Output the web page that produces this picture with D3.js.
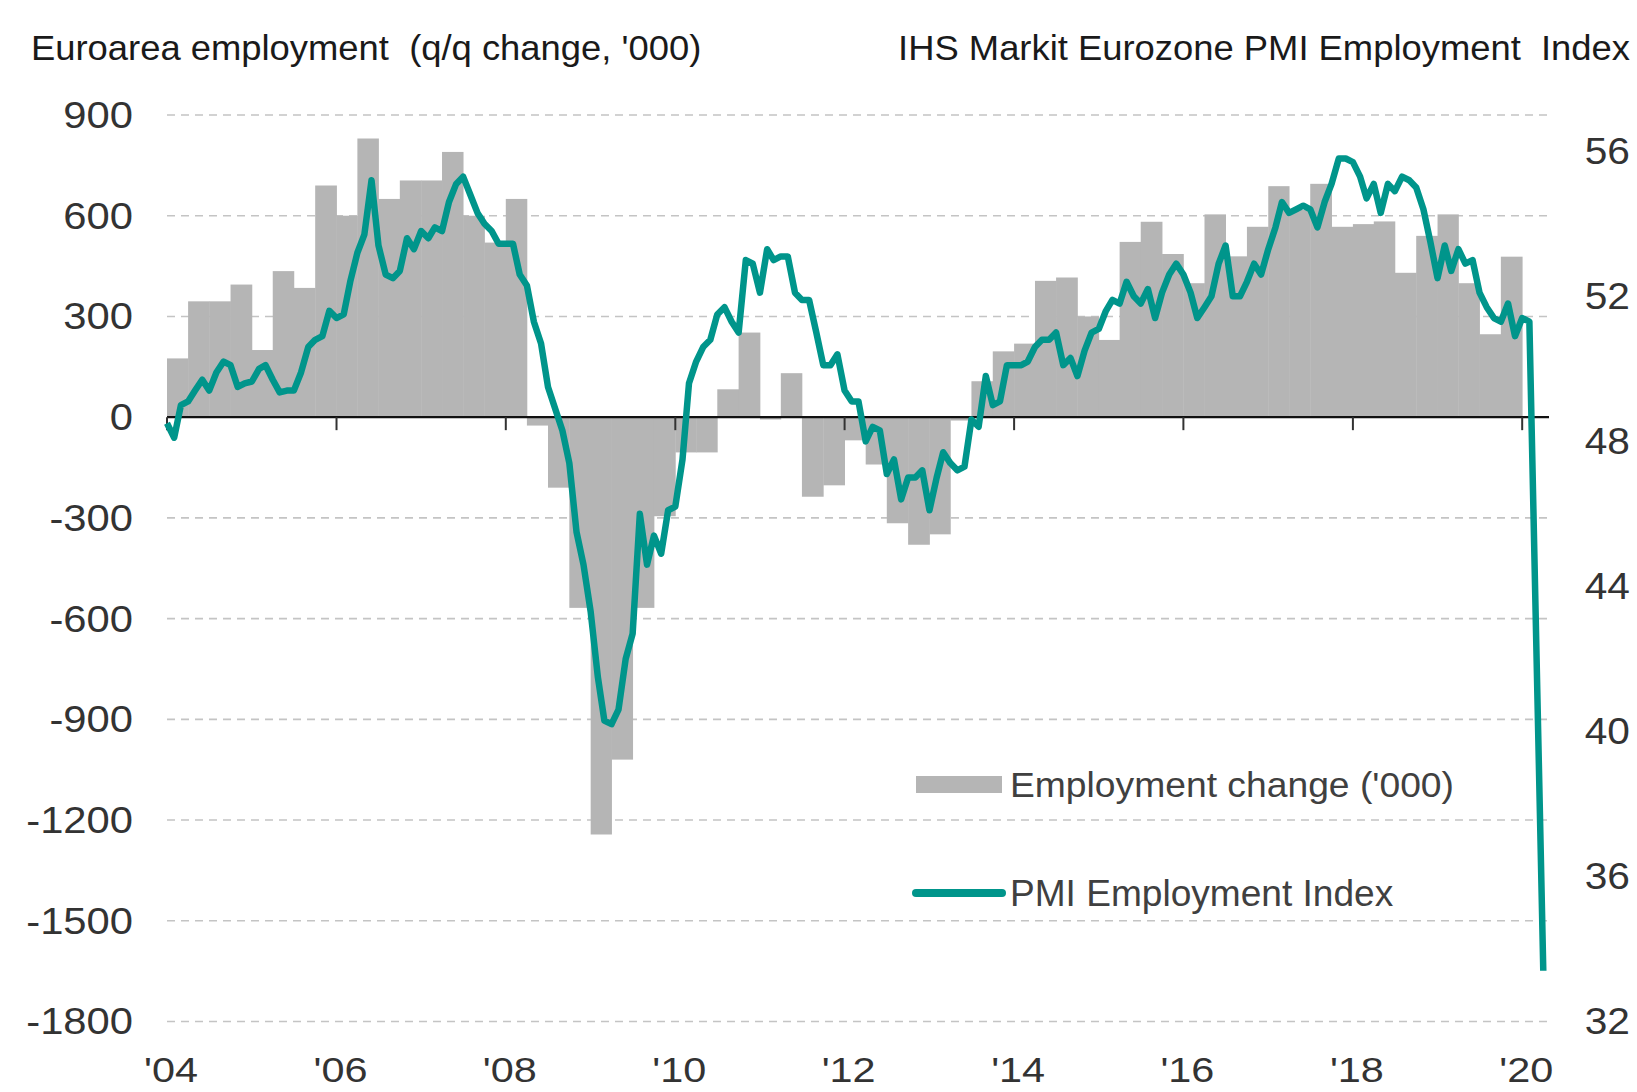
<!DOCTYPE html>
<html>
<head>
<meta charset="utf-8">
<script src="https://cdn.jsdelivr.net/npm/d3@7"></script>
<style>
  body { margin: 0; background: #fff; }
  svg { display: block; font-family: "Liberation Sans", Arial, sans-serif; }
  text { white-space: pre; }
</style>
</head>
<body>
<svg id="chart" width="1637" height="1092"></svg>
<script>
// quarterly euro area employment change ('000), one row per year, Q1..Q4
const barYears = [2004, 2005, 2006, 2007, 2008, 2009, 2010, 2011, 2012, 2013, 2014, 2015, 2016, 2017, 2018, 2019];
const employmentChange = [
    [175, 345, 345, 395],
    [200, 435, 385, 690],
    [600, 830, 650, 705],
    [705, 790, 600, 520],
    [650, -25, -210, -568],
    [-1243, -1020, -568, -295],
    [-105, -105, 83, 252],
    [-7, 131, -237, -203],
    [-69, -141, -316, -380],
    [-349, -10, 107, 196],
    [219, 406, 416, 300],
    [230, 522, 582, 486],
    [399, 604, 479, 567],
    [688, 617, 695, 567],
    [575, 583, 430, 540],
    [604, 399, 247, 478]
];

// monthly PMI employment index, one row per year, Jan..Dec (Mar 2020 not shown)
const pmiYears = [2004, 2005, 2006, 2007, 2008, 2009, 2010, 2011, 2012, 2013, 2014, 2015, 2016, 2017, 2018, 2019, 2020];
const pmiIndex = [
    [48.5, 48.1, 49.0, 49.1, 49.4, 49.7, 49.4, 49.9, 50.2, 50.1, 49.5, 49.6],
    [49.65, 50.0, 50.1, 49.7, 49.35, 49.4, 49.4, 49.9, 50.6, 50.8, 50.9, 51.6],
    [51.4, 51.5, 52.4, 53.2, 53.7, 55.2, 53.4, 52.6, 52.5, 52.7, 53.6, 53.3],
    [53.8, 53.6, 53.9, 53.8, 54.6, 55.1, 55.3, 54.8, 54.3, 54.0, 53.8, 53.45],
    [53.45, 53.45, 52.6, 52.3, 51.3, 50.7, 49.5, 48.9, 48.3, 47.4, 45.5, 44.6],
    [43.3, 41.5, 40.3, 40.2, 40.6, 42.0, 42.7, 46.0, 44.6, 45.4, 44.9, 46.1],
    [46.2, 47.5, 49.6, 50.2, 50.6, 50.8, 51.5, 51.7, 51.3, 51.0, 53.0, 52.9],
    [52.1, 53.3, 53.0, 53.1, 53.1, 52.1, 51.9, 51.9, 51.0, 50.1, 50.1, 50.4],
    [49.4, 49.1, 49.1, 48.0, 48.4, 48.3, 47.1, 47.5, 46.4, 47.0, 47.0, 47.2],
    [46.1, 47.0, 47.7, 47.4, 47.2, 47.3, 48.6, 48.4, 49.8, 49.0, 49.1, 50.1],
    [50.1, 50.1, 50.2, 50.6, 50.8, 50.8, 51.0, 50.1, 50.3, 49.8, 50.5, 51.0],
    [51.1, 51.6, 51.9, 51.8, 52.4, 52.0, 51.8, 52.2, 51.4, 52.1, 52.6, 52.9],
    [52.6, 52.1, 51.4, 51.7, 52.0, 52.9, 53.4, 52.0, 52.0, 52.4, 52.9, 52.6],
    [53.3, 53.9, 54.6, 54.3, 54.4, 54.5, 54.4, 53.9, 54.6, 55.1, 55.8, 55.8],
    [55.7, 55.3, 54.7, 55.1, 54.3, 55.1, 54.9, 55.3, 55.2, 55.0, 54.4, 53.5],
    [52.5, 53.4, 52.7, 53.3, 52.9, 53.0, 52.1, 51.7, 51.4, 51.3, 51.8, 50.9],
    [51.4, 51.3, null, 33.4]
];

const leftTicks = [900, 600, 300, 0, -300, -600, -900, -1200, -1500, -1800];
const rightTicks = [56, 52, 48, 44, 40, 36, 32];
const yearTicks = [2004, 2006, 2008, 2010, 2012, 2014, 2016, 2018, 2020];

const leftTitle = "Euroarea employment  (q/q change, '000)";
const rightTitle = "IHS Markit Eurozone PMI Employment  Index";
const legendBars = "Employment change ('000)";
const legendLine = "PMI Employment Index";

const teal = "#00958b";
const grey = "#b5b5b5";

const svg = d3.select("#chart");
const plot = { left: 167, right: 1547, top: 115, bottom: 1021.5 };

const x = d3.scaleTime()
    .domain([new Date(2004, 0, 1), new Date(2020, 3, 17)])
    .range([plot.left, plot.right]);
const yLeft = d3.scaleLinear().domain([-1800, 900]).range([plot.bottom, plot.top]);
const yRight = d3.scaleLinear().domain([32, 57]).range([plot.bottom, plot.top]);

// text in the original is a bit wider than Liberation Sans, so stretch it
function placeText(sel, xPos, yPos, sx) {
    sel.attr("transform", (d, i) => {
        let px = typeof xPos === "function" ? xPos(d, i) : xPos;
        let py = typeof yPos === "function" ? yPos(d, i) : yPos;
        return "translate(" + px + "," + py + ") scale(" + sx + ",1)";
    });
}

// flatten the tables
let bars = [];
barYears.forEach((yr, i) => {
    employmentChange[i].forEach((v, q) => {
        bars.push({ start: new Date(yr, q * 3, 1), end: new Date(yr, q * 3 + 3, 1), value: v });
    });
});
let pmi = [];
pmiYears.forEach((yr, i) => {
    pmiIndex[i].forEach((v, m) => {
        if (v !== null) pmi.push({ date: new Date(yr, m, 1), value: v });
    });
});

// gridlines
svg.append("g")
    .selectAll("line")
    .data(leftTicks.filter(d => d !== 0))
    .enter().append("line")
    .attr("x1", plot.left)
    .attr("x2", plot.right)
    .attr("y1", d => yLeft(d))
    .attr("y2", d => yLeft(d))
    .style("stroke", "#c4c4c4")
    .style("stroke-width", 1.6)
    .style("stroke-dasharray", "8,6");

// bars
svg.append("g")
    .selectAll("rect")
    .data(bars)
    .enter().append("rect")
    .attr("x", d => x(d.start))
    .attr("width", d => x(d.end) - x(d.start) + 0.4)
    .attr("y", d => Math.min(yLeft(d.value), yLeft(0)))
    .attr("height", d => Math.abs(yLeft(d.value) - yLeft(0)))
    .style("fill", grey);

// zero axis with year ticks
const xAxis = svg.append("g");
xAxis.append("line")
    .attr("x1", plot.left)
    .attr("x2", plot.right + 2)
    .attr("y1", yLeft(0))
    .attr("y2", yLeft(0))
    .style("stroke", "#111")
    .style("stroke-width", 2.4);
xAxis.selectAll("line.tick")
    .data(yearTicks)
    .enter().append("line")
    .attr("class", "tick")
    .attr("x1", d => x(new Date(d, 0, 1)))
    .attr("x2", d => x(new Date(d, 0, 1)))
    .attr("y1", yLeft(0))
    .attr("y2", yLeft(0) + 13)
    .style("stroke", "#333")
    .style("stroke-width", 2);

// year labels
svg.append("g")
    .selectAll("text")
    .data(yearTicks)
    .enter().append("text")
    .call(placeText, d => x(new Date(d, 0, 1)) + 4, 1082, 1.15)
    .attr("text-anchor", "middle")
    .style("font-size", "36px")
    .style("fill", "#333")
    .text(d => "'" + String(d).slice(2));

// PMI line
svg.append("path")
    .datum(pmi)
    .attr("d", d3.line().x(d => x(d.date)).y(d => yRight(d.value)))
    .style("fill", "none")
    .style("stroke", teal)
    .style("stroke-width", 6.5)
    .style("stroke-linejoin", "round");

// left axis labels
svg.append("g")
    .selectAll("text")
    .data(leftTicks)
    .enter().append("text")
    .call(placeText, 133, d => yLeft(d), 1.16)
    .attr("dy", "0.36em")
    .attr("text-anchor", "end")
    .style("font-size", "36px")
    .style("fill", "#333")
    .text(d => d);

// right axis labels
svg.append("g")
    .selectAll("text")
    .data(rightTicks)
    .enter().append("text")
    .call(placeText, 1630, d => yRight(d), 1.13)
    .attr("dy", "0.36em")
    .attr("text-anchor", "end")
    .style("font-size", "36px")
    .style("fill", "#333")
    .text(d => d);

// axis titles
svg.append("text")
    .call(placeText, 31, 60, 1.04)
    .style("font-size", "35px")
    .style("fill", "#1a1a1a")
    .text(leftTitle);
svg.append("text")
    .call(placeText, 1630, 60, 1.04)
    .attr("text-anchor", "end")
    .style("font-size", "35px")
    .style("fill", "#1a1a1a")
    .text(rightTitle);

// legend
const legend = svg.append("g");
legend.append("rect")
    .attr("x", 916)
    .attr("y", 776)
    .attr("width", 86)
    .attr("height", 17)
    .style("fill", grey);
legend.append("line")
    .attr("x1", 916)
    .attr("x2", 1002)
    .attr("y1", 893)
    .attr("y2", 893)
    .style("stroke", teal)
    .style("stroke-width", 8)
    .style("stroke-linecap", "round");
legend.append("text")
    .call(placeText, 1010, 784, 1.035)
    .attr("dy", "0.36em")
    .style("font-size", "36px")
    .style("fill", "#404040")
    .text(legendBars);
legend.append("text")
    .call(placeText, 1010, 893, 1.03)
    .attr("dy", "0.36em")
    .style("font-size", "36px")
    .style("fill", "#404040")
    .text(legendLine);
</script>
</body>
</html>
